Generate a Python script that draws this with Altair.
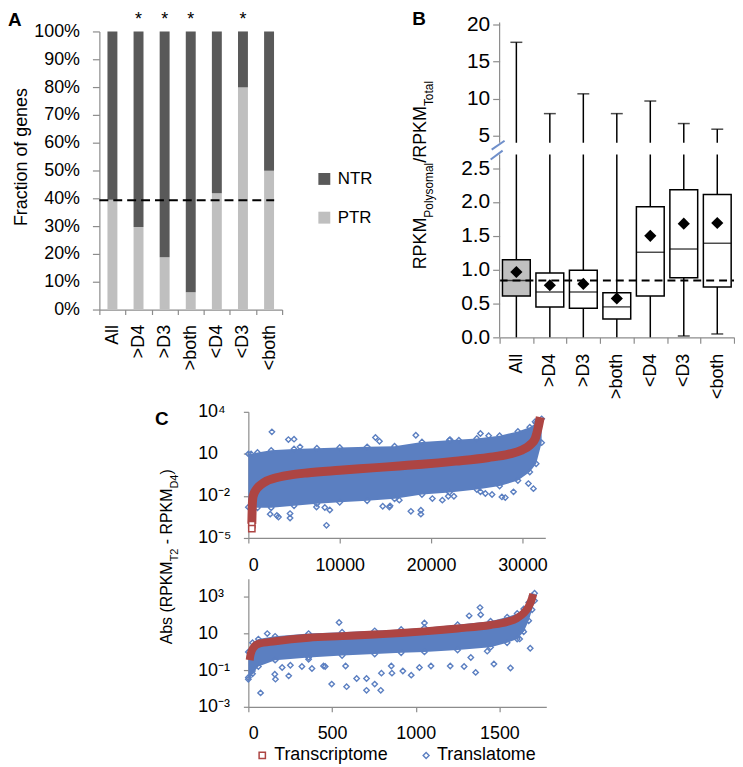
import altair as alt
import pandas as pd

FONT = "Liberation Sans"
AXIS_GRAY = "#8c8c8c"
NTR_COLOR = "#595959"
PTR_COLOR = "#bfbfbf"
BLUE = "#5b7fc1"
RED = "#ad4543"
BREAK_BLUE = "#6f8fca"

# ---------------- data ----------------
categories = ["All", ">D4", ">D3", ">both", "<D4", "<D3", "<both"]

# Panel A: fraction of PTR genes (%), NTR is the rest
a_ptr_pct = [39.5, 29.7, 18.8, 6.2, 41.8, 79.9, 49.9]
a_star = ["", "*", "*", "*", "", "*", ""]
a_ref_pct = 39.3
a_y_ticks = [0, 10, 20, 30, 40, 50, 60, 70, 80, 90, 100]

# Panel B: box plot statistics
b_min = [0.0, 0.0, 0.0, 0.0, 0.0, 0.02, 0.05]
b_q1 = [0.61, 0.45, 0.43, 0.27, 0.61, 0.88, 0.745]
b_median = [0.84, 0.67, 0.67, 0.45, 1.257, 1.305, 1.39]
b_q3 = [1.145, 0.95, 0.99, 0.66, 1.93, 2.18, 2.11]
b_max = [17.6, 7.98, 10.65, 7.98, 9.68, 6.64, 5.88]
b_mean = [0.965, 0.77, 0.79, 0.575, 1.5, 1.68, 1.69]
b_ref = 0.84
b_ticks = [0, 0.5, 1, 1.5, 2, 2.5, 5, 10, 15, 20]
b_break = [2.7, 4.06]
b_top = 20.27

# Panel C (upper): index vs Abs difference; y read as log10 exponents
c1_x_ticks = [0, 10000, 20000, 30000]
c1_red_x = [380, 400, 430, 480, 580, 800, 1300, 2000, 2750, 4500, 6400, 10000, 13600,
            16500, 19000, 22700, 26300, 28500, 29900, 30800, 31400, 31740, 31950]
c1_red_exp = [-4.0, -3.4, -2.7, -2.2, -1.9, -1.6, -1.24, -0.93, -0.76, -0.52, -0.36, -0.17, 0.0,
              0.14, 0.26, 0.48, 0.74, 0.98, 1.26, 1.62, 2.1, 2.93, 3.62]
c1_red_marker_x = [380, 380]
c1_red_marker_exp = [-4.05, -4.33]
c1_band_x = [0, 300, 1000, 2500, 5000, 7500, 10000, 13000, 16000, 19000, 22000, 25000, 27500,
             29500, 30800, 31500, 32100]
c1_band_lo = [-2.8, -2.8, -2.85, -2.85, -2.7, -2.55, -2.45, -2.35, -2.2, -1.9, -1.75, -1.55, -1.3,
              -0.9, -0.3, 0.3, 1.8]
c1_band_hi = [1.0, 1.0, 1.1, 1.25, 1.35, 1.4, 1.45, 1.5, 1.55, 1.85, 1.97, 2.1, 2.3, 2.6, 2.9, 3.2, 3.5]
c1_out_x = [2576, 4384, 5000, 5650, 13913, 14348, 18330, 22070, 23040, 25400, 26300, 31380,
            8550, 4565, 4565, 3297, 3120, 2390, 8370, 8913, 7460, 14710, 15430, 15510, 16520,
            17790, 18880, 18880, 20140, 21230, 21880, 22500, 25400, 25940, 26670, 27750, 28120,
            29020, 30650, 31200]
c1_out_exp = [2.57, 2.02, 2.05, 1.5, 2.17, 1.9, 2.33, 2.02, 1.98, 2.45, 2.3, 3.29,
              -4.1, -3.57, -3.26, -3.5, -3.4, -3.3, -2.83, -3.0, -2.79, -2.74, -2.79, -2.71, -2.3,
              -3.1, -3.02, -3.3, -2.19, -2.3, -2.02, -2.02, -1.71, -1.83, -1.9, -2.07, -2.12,
              -1.71, -1.12, -1.48]

# Panel C (lower)
c2_x_ticks = [0, 500, 1000, 1500]
c2_red_x = [8, 12, 20, 35, 60, 160, 360, 560, 755, 913, 1052, 1250, 1447, 1546, 1606, 1645, 1675,
            1695, 1702]
c2_red_exp = [-0.45, -0.2, 0.05, 0.28, 0.44, 0.58, 0.77, 0.86, 0.95, 1.03, 1.12, 1.28, 1.47, 1.64,
              1.85, 2.12, 2.48, 2.93, 3.16]
c2_band_x = [0, 25, 60, 160, 360, 560, 755, 913, 1052, 1250, 1447, 1546, 1606, 1645, 1675, 1695, 1710]
c2_band_lo = [-1.5, -1.2, -0.8, -0.45, -0.3, -0.2, -0.12, -0.05, 0.0, 0.1, 0.25, 0.5, 0.7, 1.1, 1.7,
              2.3, 2.8]
c2_band_hi = [0.0, 0.5, 0.7, 0.85, 1.0, 1.08, 1.15, 1.22, 1.32, 1.48, 1.68, 1.9, 2.1, 2.35, 2.7, 3.05, 3.2]
c2_out_x = [113, 542, 73, 162, 158, 241, 380, 459, 498, 587, 647, 706, 706, 755, 791, 795, 854, 858,
            581, 320, 1384, 1319, 1388, 1052, 1684, 1566, 1467, 1358, 1206, 1091, 973, 923, 1022,
            1289, 1329, 1427, 1621, 1635, 0, 24, 202, 251, 360, 449]
c2_out_exp = [1.0, 1.61, -2.24, -1.49, -1.22, -1.31, -0.91, -0.8, -1.76, -1.9, -1.45, -1.45, -2.1,
              -1.76, -2.1, -1.16, -0.77, -1.16, -0.77, -0.8, 2.42, 1.97, 2.03, 1.58, 0.2, -0.88,
              -0.66, -1.12, -0.77, -0.77, -1.27, -1.04, -0.85, -0.8, -0.31, 0.04, 0.71, 1.22,
              -1.4, -1.04, -0.85, -0.73, -0.4, -0.77]

series_names = ["Transcriptome", "Translatome"]

# ---------------- helpers ----------------
ONE = pd.DataFrame({"k": [0]})
ARIAL = {"A": .667, "b": .556, "s": .5, " ": .278, "(": .333, ")": .333, "R": .722, "P": .667,
         "K": .667, "M": .833, "T": .611, "2": .556, "4": .556, "D": .722, "-": .333, "o": .556,
         "l": .222, "y": .5, "m": .833, "a": .556, "/": .278, "t": .278}


def tw(s, size):
    return sum(ARIAL[c] for c in s) * size


def text(t, x, y, size, angle=0, align="left", baseline="alphabetic", weight="normal"):
    return alt.Chart(ONE).mark_text(
        text=t, fontSize=size, angle=angle, align=align, baseline=baseline,
        fontWeight=weight, font=FONT, color="black"
    ).encode(x=alt.value(x), y=alt.value(y))


def rotated_title(pieces, x_main, x_sub, y_center):
    total = sum(tw(t, sz) for t, sz, _ in pieces)
    y = y_center + total / 2
    out = []
    for t, sz, sub in pieces:
        lead = len(t) - len(t.lstrip(" "))
        out.append(text(t.strip(), x_sub if sub else x_main, y - tw(t[:lead], sz), sz, angle=270))
        y -= tw(t, sz)
    return out


def exps(v):
    return [10 ** e for e in v]


# ---------------- Panel A ----------------
A_W, A_H = 184, 289
a_rows = []
for c, p in zip(categories, a_ptr_pct):
    a_rows.append({"cat": c, "series": "PTR", "lo": 0.0, "hi": p})
    a_rows.append({"cat": c, "series": "NTR", "lo": p, "hi": 100.0})
a_df = pd.DataFrame(a_rows)

xA = alt.X("cat:N", sort=categories, scale=alt.Scale(paddingInner=0, paddingOuter=0),
           axis=alt.Axis(title=None, labelAngle=270, labelFontSize=18, tickBand="extent",
                         tickSize=5, labelPadding=10))
yA = alt.Y("lo:Q", scale=alt.Scale(domain=[0, 100], range=[289, 9], nice=False),
           axis=alt.Axis(values=a_y_ticks, labelExpr="datum.value + '%'", title="Fraction of genes",
                         titleFontSize=18, titleFontWeight="normal", labelFontSize=18, tickSize=7,
                         labelPadding=13, titleX=-78, titleY=135, titleAngle=270,
                         titleAlign="center", titleBaseline="middle"))

a_bars = alt.Chart(a_df).mark_bar(size=10).encode(
    x=xA, y=yA, y2="hi:Q",
    color=alt.Color("series:N", scale=alt.Scale(domain=["NTR", "PTR"], range=[NTR_COLOR, PTR_COLOR]),
                    legend=alt.Legend(title=None, orient="none", legendX=218, legendY=149,
                                      symbolType="square", symbolSize=144, symbolStrokeWidth=0,
                                      labelFontSize=17, rowPadding=21, labelOffset=5, padding=0))
)
a_dash = alt.Chart(pd.DataFrame({"lo": [a_ref_pct]})).mark_rule(
    color="black", strokeWidth=2, strokeDash=[9, 5]
).encode(y=yA, x=alt.value(0), x2=alt.value(176))
a_stars = alt.Chart(pd.DataFrame({"cat": categories, "star": a_star})).mark_text(
    fontSize=18, baseline="alphabetic", font=FONT, color="black"
).encode(x=xA, y=alt.value(3), text="star:N")
panel_a = alt.layer(a_bars, a_dash, a_stars, text("A", -92, 4, 19, weight="bold")).properties(
    width=A_W, height=A_H)

# ---------------- Panel B ----------------
B_W, B_H = 236, 317
b_df = pd.DataFrame({"cat": categories, "min": b_min, "q1": b_q1, "median": b_median,
                     "q3": b_q3, "max": b_max, "mean": b_mean})
b_scale = alt.Scale(domain=[0, b_break[0], b_break[1], b_top], range=[B_H, 133, 121, 0],
                    nice=False, zero=False)
b_axis = alt.Axis(values=b_ticks, title=None, domain=False, tickSize=7, labelPadding=3,
                  labelFontSize=21,
                  labelExpr="datum.value <= 2.5 ? format(datum.value, '.1f') : format(datum.value, 'd')")
xB = alt.X("cat:N", sort=categories, scale=alt.Scale(paddingInner=0, paddingOuter=0),
           axis=alt.Axis(title=None, labelAngle=270, labelFontSize=18, tickBand="extent",
                         tickSize=6, labelPadding=10))


def yb(field):
    return alt.Y(f"{field}:Q", scale=b_scale, axis=b_axis)


base_b = alt.Chart(b_df)
b_wl = base_b.mark_rule(color="black", strokeWidth=1.5).encode(x=xB, y=yb("min"), y2="q1:Q")
b_wh = base_b.mark_rule(color="black", strokeWidth=1.5).encode(x=xB, y=yb("q3"), y2="max:Q")
b_gap = alt.Chart(pd.DataFrame({"lo": [b_break[0]], "hi": [b_break[1]]})).mark_rect(
    color="white").encode(y=yb("lo"), y2="hi:Q", x=alt.value(2), x2=alt.value(B_W))
b_box = base_b.mark_bar(size=28, stroke="black", strokeWidth=1.5).encode(
    x=xB, y=yb("q1"), y2="q3:Q",
    fill=alt.condition(alt.datum.cat == "All", alt.value("#c0c0c0"), alt.value("white")))
b_med = base_b.mark_tick(size=28, thickness=1.5, color="black").encode(x=xB, y=yb("median"))
b_dash = alt.Chart(pd.DataFrame({"v": [b_ref]})).mark_rule(
    color="black", strokeWidth=2, strokeDash=[8, 5]).encode(y=yb("v"), x=alt.value(0), x2=alt.value(B_W))
b_mean_pts = base_b.mark_point(shape="diamond", filled=True, color="black", size=150, opacity=1).encode(
    x=xB, y=yb("mean"))
b_cap_hi = base_b.mark_tick(size=12, thickness=1.5, color="black").encode(x=xB, y=yb("max"))
b_cap_lo = base_b.transform_filter("datum.min > 0").mark_tick(size=12, thickness=1.5, color="black").encode(
    x=xB, y=yb("min"))
b_axis_seg = alt.Chart(pd.DataFrame({"lo": [0, b_break[1]], "hi": [b_break[0], b_top]})).mark_rule(
    color=AXIS_GRAY, strokeWidth=1.2).encode(x=alt.value(0), y=yb("lo"), y2="hi:Q")
slash1 = alt.Chart(ONE).mark_rule(color=BREAK_BLUE, strokeWidth=2).encode(
    x=alt.value(-8), x2=alt.value(5), y=alt.value(128), y2=alt.value(119))
slash2 = alt.Chart(ONE).mark_rule(color=BREAK_BLUE, strokeWidth=2).encode(
    x=alt.value(-9), x2=alt.value(3), y=alt.value(138), y2=alt.value(129))
b_title = rotated_title([("RPKM", 18, False), ("Polysomal", 12, True), ("/RPKM", 18, False),
                         ("Total", 12, True)], -74, -67, 153)
panel_b = alt.layer(b_wl, b_wh, b_gap, b_box, b_med, b_dash, b_mean_pts, b_cap_hi, b_cap_lo,
                    b_axis_seg, slash1, slash2, *b_title, text("B", -88, 3, 19, weight="bold")
                    ).properties(width=B_W, height=B_H)

# ---------------- Panel C ----------------
def c_panel(W, H, xdom, xticks, ydom, yvals, ylabel_expr, red_x, red_e, band_x, band_lo, band_hi,
            out_x, out_e, red_w, xpad, extra=()):
    xs = alt.Scale(domain=xdom, nice=False, zero=False)
    ys = alt.Scale(type="log", domain=ydom, nice=False)
    xe = alt.X("x:Q", scale=xs, axis=alt.Axis(values=xticks, format="d", title=None, labelFontSize=18,
                                               tickSize=5, labelPadding=xpad))
    ye = alt.Y("y:Q", scale=ys, axis=alt.Axis(values=yvals, labelExpr=ylabel_expr, title=None,
                                               labelFontSize=18, tickSize=5, labelAlign="left",
                                               labelPadding=46))
    band = pd.DataFrame({"x": band_x, "y": exps(band_lo), "y2": exps(band_hi)})
    edge = pd.DataFrame({"x": band_x + band_x, "y": exps(band_lo) + exps(band_hi)})
    outl = pd.DataFrame({"x": out_x, "y": exps(out_e)})
    red = pd.DataFrame({"x": red_x, "y": exps(red_e)})
    layers = [
        alt.Chart(band).mark_area(color=BLUE, opacity=1).encode(x=xe, y=ye, y2="y2:Q"),
        alt.Chart(edge).mark_point(shape="diamond", color=BLUE, size=30, strokeWidth=1.4,
                                   filled=False, opacity=1).encode(x=xe, y=ye),
        alt.Chart(outl).mark_point(shape="diamond", color=BLUE, size=30, strokeWidth=1.4,
                                   filled=False, opacity=1).encode(x=xe, y=ye),
        alt.Chart(red).mark_line(color=RED, strokeWidth=red_w, interpolate="monotone").encode(x=xe, y=ye),
    ]
    for e in extra:
        layers.append(e(xe, ye))
    return alt.layer(*layers).properties(width=W, height=H)


def c1_markers(xe, ye):
    df = pd.DataFrame({"x": c1_red_marker_x, "y": exps(c1_red_marker_exp)})
    return alt.Chart(df).mark_point(shape="square", filled=True, fill="white", stroke=RED,
                                    strokeWidth=1.5, size=40, opacity=1).encode(x=xe, y=ye)


panel_c1 = c_panel(299, 127, [0, 32500], c1_x_ticks, [1e-5, 1e4], [1e-5, 1e-2, 10, 1e4],
                   "datum.value > 1000 ? '10\u2074' : datum.value > 1 ? '10' : datum.value > 0.001 ? '10\u207b\u00b2' : '10\u207b\u2075'",
                   c1_red_x, c1_red_exp, c1_band_x, c1_band_lo, c1_band_hi, c1_out_x, c1_out_exp,
                   9, 14, extra=[c1_markers])

legend_layers = [
    alt.Chart(ONE).mark_point(shape="square", filled=True, fill="white", stroke=RED, strokeWidth=1.5,
                              size=40, opacity=1).encode(x=alt.value(14), y=alt.value(178)),
    text(series_names[0], 26, 178, 18, baseline="middle"),
    alt.Chart(ONE).mark_point(shape="diamond", filled=False, color=BLUE, strokeWidth=1.4,
                              size=36, opacity=1).encode(x=alt.value(179), y=alt.value(178)),
    text(series_names[1], 190, 178, 18, baseline="middle"),
]
panel_c2 = alt.layer(
    c_panel(300, 129, [0, 1780], c2_x_ticks, [1e-3, 1e4], [1e-3, 1e-1, 10, 1e3],
            "datum.value > 100 ? '10\u00b3' : datum.value > 1 ? '10' : datum.value > 0.01 ? '10\u207b\u00b9' : '10\u207b\u00b3'",
            c2_red_x, c2_red_exp, c2_band_x, c2_band_lo, c2_band_hi, c2_out_x, c2_out_exp, 8, 13),
    *legend_layers
).properties(width=300, height=129)

c_title = rotated_title([("Abs (RPKM", 16, False), ("T2", 11, True), (" - RPKM", 16, False),
                         ("D4", 11, True), (")", 16, False)], 73, 79, 146)
spacer = alt.layer(text("C", 56, 13, 19, weight="bold"), *c_title).properties(width=150, height=298)

row1 = alt.hconcat(panel_a, panel_b, spacing=219, bounds="flush")
ccol = alt.vconcat(panel_c1, panel_c2, spacing=41, bounds="flush")
row2 = alt.hconcat(spacer, ccol, spacing=0, bounds="flush")
chart = alt.vconcat(row1, row2, spacing=0).properties(padding=0).configure_view(
    stroke=None
).configure_axis(
    labelFont=FONT, titleFont=FONT, labelColor="black", titleColor="black",
    domainColor=AXIS_GRAY, tickColor=AXIS_GRAY, grid=False, domainWidth=1.2, tickWidth=1.2
).configure_legend(labelFont=FONT, labelColor="black").configure_text(font=FONT)

chart.save("out.html", embed_options={"renderer": "svg", "actions": False})
